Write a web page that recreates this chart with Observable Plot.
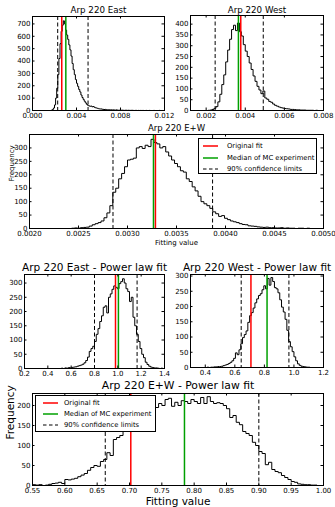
<!DOCTYPE html>
<html><head><meta charset="utf-8">
<script src="https://cdn.jsdelivr.net/npm/d3@7"></script>
<script src="https://cdn.jsdelivr.net/npm/@observablehq/plot@0.6"></script>
<style>
body{margin:0;background:#fff;font-family:"DejaVu Sans",sans-serif;}
#wrap{position:relative;width:335px;height:507px;overflow:hidden;background:#fff;}
#wrap svg.panel{position:absolute;left:0;top:0;}
.legend{position:absolute;border:1px solid #000;background:#fff;box-sizing:border-box;font-size:6.8px;color:#000;}
.legend .row{display:flex;align-items:center;white-space:nowrap;}
.legend .row svg{display:block;flex:none;}
</style>
</head><body>
<div id="wrap"></div>
<script>
// ---------------- data ----------------
const titles = ["Arp 220 East", "Arp 220 West", "Arp 220 E+W",
  "Arp 220 East - Power law fit", "Arp 220 West - Power law fit", "Arp 220 E+W - Power law fit"];
const legendLabels = ["Original fit", "Median of MC experiment", "90% confidence limits"];
const xLabel = "Fitting value";
const yLabel = "Frequency";

// Arp 220 East (bins start / width / counts)
const eastStart = 0.0016, eastBin = 0.0001;
const eastCounts = [0,2,8,20,45,100,180,290,420,540,640,690,725,700,650,610,575,530,490,440,
  380,330,290,250,220,195,170,150,125,105,90,75,62,50,42,38,34,36,30,32,
  26,22,20,17,14,12,13,10,9,8,9,7,6,7,5,6,4,5,4,3,
  5,3,2,3,2,3,2,1,2,2,1,2,1,1,2,1,0,1,1,0,
  1,0,1,0,1,0,0,1,0,0,1,0,0,0,1,0,0,0,0,1];
const eastOrig = 0.00266, eastMedian = 0.00303, eastLimits = [0.00229, 0.00505];
const eastXTicks = [0, 0.004, 0.008, 0.012];
const eastYTicks = [0, 100, 200, 300, 400, 500, 600, 700];

// Arp 220 West
const westStart = 0.0020, westBin = 0.0001;
const westCounts = [0,1,2,5,10,18,40,75,120,165,225,280,330,375,395,370,405,365,345,305,
  275,250,220,190,160,135,112,95,78,90,58,52,42,38,30,24,20,16,13,11,
  9,8,7,5,5,4,3,3,2,2,2,1,1,1,1,0,1,0];
const westOrig = 0.00377, westMedian = 0.00365, westLimits = [0.00246, 0.00492];
const westXTicks = [0.002, 0.004, 0.006, 0.008];
const westYTicks = [0, 50, 100, 150, 200, 250, 300, 350, 400];

// Arp 220 E+W
const ewStart = 0.00240, ewBin = 0.00003;
const ewCounts = [0,1,2,1,3,4,5,9,14,18,22,28,40,58,85,135,150,185,205,230,
  255,258,262,300,305,298,310,305,332,320,315,300,305,285,270,255,242,230,215,210,
  185,175,155,140,120,100,92,85,75,62,55,45,48,38,33,28,25,22,18,15,
  14,10,9,8,6,5,4,5,3,3,2,2,3,1,2,1,1,0,1,1,0,1,0,0];
const ewOrig = 0.003285, ewMedian = 0.003265, ewLimits = [0.002852, 0.003868];
const ewXTicks = [0.0020, 0.0025, 0.0030, 0.0035, 0.0040, 0.0045, 0.0050];
const ewYTicks = [0, 50, 100, 150, 200, 250, 300];

// Arp 220 East - power law
const eastPLStart = 0.500, eastPLBin = 0.015;
const eastPLCounts = [0,1,0,2,1,3,2,4,5,6,8,10,12,15,20,28,40,60,70,78,
  95,120,140,165,185,215,220,195,250,262,278,290,285,280,298,305,315,300,280,270,
  235,250,180,150,120,95,70,50,38,22,14,8,5,3,2,2,1,0,1,0];
const eastPLOrig = 0.98, eastPLMedian = 1.005, eastPLLimits = [0.80, 1.165];
const eastPLXTicks = [0.2, 0.4, 0.6, 0.8, 1.0, 1.2, 1.4];
const eastPLYTicks = [0, 50, 100, 150, 200, 250, 300];

// Arp 220 West - power law
const westPLStart = 0.400, westPLBin = 0.012;
const westPLCounts = [0,1,0,1,1,2,2,3,3,4,6,8,10,13,17,22,30,48,42,58,
  78,98,108,120,148,170,180,195,212,225,236,242,255,268,258,292,270,295,282,262,
  258,245,222,198,182,158,122,85,68,52,35,22,12,7,4,3,2,1,1,0];
const westPLOrig = 0.709, westPLMedian = 0.818, westPLLimits = [0.643, 0.966];
const westPLXTicks = [0.4, 0.6, 0.8, 1.0, 1.2];
const westPLYTicks = [0, 50, 100, 150, 200, 250, 300];

// Arp 220 E+W - power law
const ewPLStart = 0.550, ewPLBin = 0.005;
const ewPLCounts = [2,1,2,0,1,3,5,6,8,5,15,14,16,18,22,26,30,38,45,50,
  48,60,65,82,75,115,120,125,150,155,165,190,188,198,192,185,210,212,195,205,
  200,215,218,198,208,200,212,210,205,215,210,205,220,205,222,210,205,207,205,200,
  192,170,175,158,152,135,130,125,108,100,85,80,52,58,40,35,32,25,20,15,
  10,8,4,3,2,2,1,1,0,0];
const ewPLOrig = 0.702, ewPLMedian = 0.785, ewPLLimits = [0.6625, 0.900];
const ewPLXTicks = [0.55, 0.60, 0.65, 0.70, 0.75, 0.80, 0.85, 0.90, 0.95, 1.00];
const ewPLYTicks = [0, 50, 100, 150, 200];

// ---------------- layout / style ----------------
const RED = "#ff0000", GREEN = "#00a000";
const W = 335, H = 507;

const panels = [
  {title: titles[0], start: eastStart, bin: eastBin, counts: eastCounts, orig: eastOrig, median: eastMedian, limits: eastLimits,
   xDomain: [0, 0.012], yDomain: [0, 760], xTicks: eastXTicks, yTicks: eastYTicks, fmt: ".3f",
   box: [32, 16, 164, 110], titleSize: 8.7, titleDy: -6},
  {title: titles[1], start: westStart, bin: westBin, counts: westCounts, orig: westOrig, median: westMedian, limits: westLimits,
   xDomain: [0.0012, 0.008], yDomain: [0, 440], xTicks: westXTicks, yTicks: westYTicks, fmt: ".3f",
   box: [190, 15, 323, 110], titleSize: 8.7, titleDy: -5},
  {title: titles[2], start: ewStart, bin: ewBin, counts: ewCounts, orig: ewOrig, median: ewMedian, limits: ewLimits,
   xDomain: [0.002, 0.005], yDomain: [0, 350], xTicks: ewXTicks, yTicks: ewYTicks, fmt: ".4f",
   box: [29, 134, 323, 228], titleSize: 8.5, titleDy: -6,
   labels: {size: 7, xdy: 14, ydx: -18},
   legend: {left: 198, top: 138, width: 119, height: 36, padL: 4, sample: 15, gap: 9, row: 11.5, padT: 1.5}},
  {title: titles[3], start: eastPLStart, bin: eastPLBin, counts: eastPLCounts, orig: eastPLOrig, median: eastPLMedian, limits: eastPLLimits,
   xDomain: [0.2, 1.4], yDomain: [0, 330], xTicks: eastPLXTicks, yTicks: eastPLYTicks, fmt: ".1f",
   box: [24, 274, 164, 368], titleSize: 10.5, titleDy: -6.5},
  {title: titles[4], start: westPLStart, bin: westPLBin, counts: westPLCounts, orig: westPLOrig, median: westPLMedian, limits: westPLLimits,
   xDomain: [0.3, 1.2], yDomain: [0, 305], xTicks: westPLXTicks, yTicks: westPLYTicks, fmt: ".1f",
   box: [190, 274, 323, 367], titleSize: 10.5, titleDy: -6.5},
  {title: titles[5], start: ewPLStart, bin: ewPLBin, counts: ewPLCounts, orig: ewPLOrig, median: ewPLMedian, limits: ewPLLimits,
   xDomain: [0.55, 1.0], yDomain: [0, 230], xTicks: ewPLXTicks, yTicks: ewPLYTicks, fmt: ".2f",
   box: [32, 393, 323, 485], titleSize: 10.8, titleDy: -8,
   labels: {size: 10.5, xdy: 16, ydx: -22},
   legend: {left: 35, top: 395, width: 121, height: 37, padL: 7, sample: 15, gap: 6, row: 11, padT: 1.5}}
];

function histPoints(start, bin, counts) {
  const pts = [{x: start, y: 0}];
  counts.forEach((c, i) => pts.push({x: start + i * bin, y: c}));
  pts.push({x: start + counts.length * bin, y: 0});
  return pts;
}

const wrap = document.getElementById("wrap");

function makePanel(p) {
  const [x0, y0, x1, y1] = p.box;
  const ph = y1 - y0, pw = x1 - x0, tl = 2.5;
  const marks = [
    Plot.line(histPoints(p.start, p.bin, p.counts), {x: "x", y: "y", curve: "step-after", stroke: "black", strokeWidth: 1}),
    Plot.ruleX(p.limits, {x: d => d, stroke: "black", strokeWidth: 1, strokeDasharray: "4,2.5"}),
    Plot.ruleX([p.orig], {x: d => d, stroke: RED, strokeWidth: 1.5}),
    Plot.ruleX([p.median], {x: d => d, stroke: GREEN, strokeWidth: 1.5}),
    Plot.tickX(p.xTicks, {x: d => d, insetTop: ph - tl, stroke: "black"}),
    Plot.tickX(p.xTicks, {x: d => d, insetBottom: ph - tl, stroke: "black"}),
    Plot.tickY(p.yTicks, {y: d => d, insetRight: pw - tl, stroke: "black"}),
    Plot.tickY(p.yTicks, {y: d => d, insetLeft: pw - tl, stroke: "black"}),
    Plot.frame({stroke: "black", strokeWidth: 1}),
    Plot.text([p.title], {text: d => d, frameAnchor: "top", dy: p.titleDy, lineAnchor: "middle", fontSize: p.titleSize, fill: "black"})
  ];
  if (p.labels) {
    marks.push(Plot.text([xLabel], {text: d => d, frameAnchor: "bottom", dy: p.labels.xdy, lineAnchor: "middle", fontSize: p.labels.size, fill: "black"}));
    marks.push(Plot.text([yLabel], {text: d => d, frameAnchor: "left", dx: p.labels.ydx, rotate: -90, lineAnchor: "middle", fontSize: p.labels.size, fill: "black"}));
  }
  const svg = Plot.plot({
    width: W, height: H,
    marginLeft: x0, marginRight: W - x1, marginTop: y0, marginBottom: H - y1,
    style: {background: "transparent", fontFamily: "DejaVu Sans, sans-serif", fontSize: "7px", overflow: "visible", color: "black"},
    x: {domain: p.xDomain, ticks: p.xTicks, tickFormat: d3.format(p.fmt), tickSize: 0, tickPadding: 3, label: null},
    y: {domain: p.yDomain, ticks: p.yTicks, tickFormat: d3.format("d"), tickSize: 0, tickPadding: 2, label: null},
    marks
  });
  svg.classList.add("panel");
  wrap.appendChild(svg);
  if (p.legend) makeLegend(p.legend);
}

function makeLegend(L) {
  const div = document.createElement("div");
  div.className = "legend";
  Object.assign(div.style, {left: L.left + "px", top: L.top + "px", width: L.width + "px", height: L.height + "px",
    paddingTop: L.padT + "px", paddingLeft: L.padL + "px"});
  const styles = [
    {stroke: RED, w: 1.5, dash: null},
    {stroke: GREEN, w: 1.5, dash: null},
    {stroke: "black", w: 1, dash: "3.5,2.5"}
  ];
  legendLabels.forEach((lab, i) => {
    const row = document.createElement("div");
    row.className = "row";
    row.style.height = L.row + "px";
    const s = d3.create("svg").attr("width", L.sample).attr("height", 4).style("margin-right", L.gap + "px");
    s.append("line").attr("x1", 0).attr("x2", L.sample).attr("y1", 2).attr("y2", 2)
      .attr("stroke", styles[i].stroke).attr("stroke-width", styles[i].w)
      .attr("stroke-dasharray", styles[i].dash);
    row.appendChild(s.node());
    const t = document.createElement("span");
    t.textContent = lab;
    row.appendChild(t);
    div.appendChild(row);
  });
  wrap.appendChild(div);
}

panels.forEach(makePanel);
</script>
</body></html>
